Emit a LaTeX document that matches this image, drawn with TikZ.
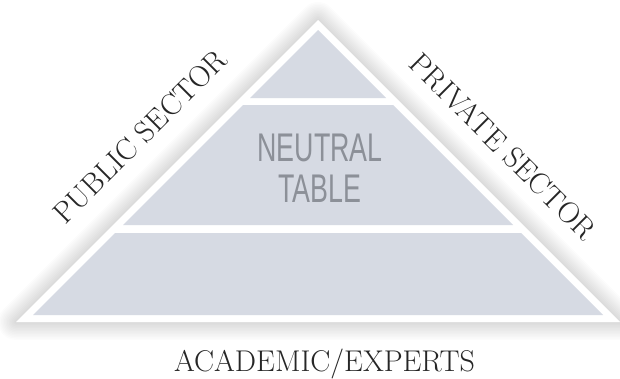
\documentclass[tikz,border=0pt]{standalone}
\usepackage{fontspec}
\newfontfamily\tablefont{Liberation Sans}
\definecolor{bandgray}{RGB}{214,218,227}
\definecolor{tablegray}{RGB}{140,144,152}

\begin{document}
\begin{tikzpicture}[x=1pt,y=1pt,
  band/.style={fill=bandgray,draw=none},
  sector/.style={text=black!85,font=\fontsize{30}{32}\selectfont,inner sep=0pt}]
\useasboundingbox (0,0) rectangle (620,-378);

%soft shadow round the pyramid
\foreach \w in {3,6,...,36}
  \draw[line width=\w pt,black,opacity=0.011,line join=round] (318,-20) -- (16,-322) -- (620,-322) -- cycle;
\fill[white] (318,-20) -- (16,-322) -- (620,-322) -- cycle;

%top, middle and bottom bands
\fill[band] (318,-30) -- (250,-98) -- (386,-98) -- cycle;
\fill[band] (243,-105) -- (393,-105) -- (513,-225) -- (123,-225) -- cycle;
\fill[band] (115,-233) -- (521,-233) -- (603,-315) -- (33,-315) -- cycle;

%labels
\node[text=tablegray,font=\tablefont\fontsize{40}{41}\selectfont,xscale=0.67,align=center] (neutral) at (320,-168) {NEUTRAL\\TABLE};
\node[rotate=45,sector] (public) at (140,-136.5) {PUBLIC SECTOR};
\node[rotate=-45,sector] (private) at (503,-146.5) {PRIVATE SECTOR};
\node[sector,anchor=base] (academic) at (324.5,-371) {ACADEMIC/EXPERTS};

\end{tikzpicture}
\end{document}
